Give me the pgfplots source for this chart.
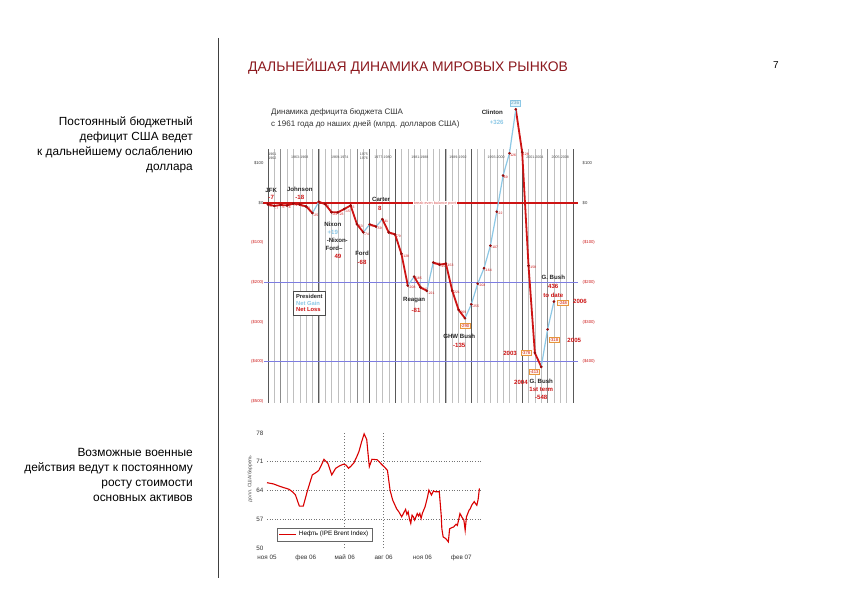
\documentclass[border=0pt]{standalone}
\usepackage{pgfplots}
\pgfplotsset{compat=1.18}
\usepackage{fontspec}
\setmainfont{Liberation Sans}
\definecolor{dred}{RGB}{205,20,20}
\definecolor{mred}{RGB}{150,10,10}
\definecolor{lblue}{RGB}{140,200,230}
\definecolor{maroon}{RGB}{140,25,30}
\definecolor{hblue}{RGB}{125,125,225}
\definecolor{boxor}{RGB}{230,150,60}
\newcommand\fsz[1]{\fontsize{#1}{#1}\selectfont}
\tikzset{ann/.style={font=\fsz{6.1}\bfseries, text=black!85, inner sep=0pt},
  rann/.style={font=\fsz{6.1}\bfseries, text=dred, inner sep=0pt},
  bann/.style={font=\fsz{6.1}\bfseries, text=lblue, inner sep=0pt},
  obox/.style={draw=boxor, fill=orange!8, font=\fsz{4.2}, text=dred, inner sep=1pt},
  term/.style={font=\fsz{3.6}, text=black!70, inner sep=0pt, align=center},
  ylab/.style={font=\fsz{4.2}, inner sep=0pt},
  xlab/.style={font=\fsz{6.3}, text=black!80, inner sep=0pt, anchor=base, yshift=-11pt}}
\begin{document}
\begin{tikzpicture}
\useasboundingbox (0,0) rectangle (842pt,595pt);
\fill[white] (0,0) rectangle (842pt,595pt);
\draw[black!75, line width=0.8pt] (218pt,557pt) -- (218pt,17pt);
\node[anchor=base west, inner sep=0, text=maroon, font=\fsz{13.9}] at (248pt,523pt) {ДАЛЬНЕЙШАЯ ДИНАМИКА МИРОВЫХ РЫНКОВ};
\node[anchor=base, inner sep=0, font=\fsz{10}] at (776pt,526pt) {7};
\node[anchor=east, align=right, inner sep=0, font=\fontsize{11.8}{15}\selectfont] at (193pt,450.5pt) {Постоянный бюджетный\\дефицит США ведет\\к дальнейшему ослаблению\\доллара};
\node[anchor=east, align=right, inner sep=0, font=\fontsize{11.9}{15}\selectfont] at (193pt,120.5pt) {Возможные военные\\действия ведут к постоянному\\росту стоимости\\основных активов};
\node[anchor=west, align=left, inner sep=0, text=black!80, font=\fontsize{8}{11.5}\selectfont] at (271pt,476.5pt) {Динамика дефицита бюджета США\\с 1961 года до наших дней (млрд. долларов США)};

% ---------------- budget deficit chart ----------------
\begin{axis}[at={(268pt,193.5pt)}, anchor=south west, scale only axis,
  width=305pt, height=252pt, xmin=1961, xmax=2009, ymin=-500, ymax=135,
  axis lines=none, clip=false]
\pgfplotsinvokeforeach{1961,...,2009}{\draw[black!25, line width=0.45pt] (axis cs:#1,-503) -- (axis cs:#1,135);}
\pgfplotsinvokeforeach{1963,1975,2005}{\draw[black!45, line width=0.6pt] (axis cs:#1,-503) -- (axis cs:#1,135);}
\pgfplotsinvokeforeach{1961,1969,1977,1981,1989,1993,2001,2009}{\draw[black!65, line width=0.9pt] (axis cs:#1,-503) -- (axis cs:#1,135);}
\draw[hblue, line width=1pt] (axis cs:1960.3,-200) -- (axis cs:2009.8,-200);
\draw[hblue, line width=1pt] (axis cs:1960.3,-400) -- (axis cs:2009.8,-400);
\draw[dred, line width=2.4pt] (axis cs:1960.2,0) -- (axis cs:2009.8,0);
\node[fill=white, text=dred!70, font=\fsz{3.8}, inner sep=0.3pt] at (axis cs:1987.3,0) {break-even balance point};
% y labels
\node[ylab, anchor=east, text=black!80] at (axis cs:1960.3,100) {\$100};
\node[ylab, anchor=east, text=black!80] at (axis cs:1960.3,0) {\$0};
\node[ylab, anchor=east, text=dred] at (axis cs:1960.3,-100) {(\$100)};
\node[ylab, anchor=east, text=dred] at (axis cs:1960.3,-200) {(\$200)};
\node[ylab, anchor=east, text=dred] at (axis cs:1960.3,-300) {(\$300)};
\node[ylab, anchor=east, text=dred] at (axis cs:1960.3,-400) {(\$400)};
\node[ylab, anchor=east, text=dred] at (axis cs:1960.3,-500) {(\$500)};
\node[ylab, anchor=west, text=black!80] at (axis cs:2010.5,100) {\$100};
\node[ylab, anchor=west, text=black!80] at (axis cs:2010.5,0) {\$0};
\node[ylab, anchor=west, text=dred] at (axis cs:2010.5,-100) {(\$100)};
\node[ylab, anchor=west, text=dred] at (axis cs:2010.5,-200) {(\$200)};
\node[ylab, anchor=west, text=dred] at (axis cs:2010.5,-300) {(\$300)};
\node[ylab, anchor=west, text=dred] at (axis cs:2010.5,-400) {(\$400)};
% term labels
\node[term] at (axis cs:1961.7,118) {1961\\1962};
\node[term] at (axis cs:1966,116) {1963-1968};
\node[term] at (axis cs:1972.3,116) {1969-1974};
\node[term] at (axis cs:1976.1,118) {1975\\1976};
\node[term] at (axis cs:1979.1,116) {1977-1980};
\node[term] at (axis cs:1984.9,116) {1981-1988};
\node[term] at (axis cs:1990.9,116) {1989-1992};
\node[term] at (axis cs:1996.9,116) {1993-2000};
\node[term] at (axis cs:2003,116) {2001-2004};
\node[term] at (axis cs:2007,116) {2005-2008};
% data: net-loss segments (red)
\addplot[dred, line width=1.8pt, unbounded coords=jump] coordinates {
(1961,-3.3)(1962,-7.1)(1963,-4.8)(1964,-5.9)(1965,-1.4)(1966,-3.7)(1967,-8.6)(1968,-25.2)(1968,nan)
(1969,3.2)(1970,-2.8)(1971,-23.0)(1972,-23.4)(1973,-14.9)(1974,-6.1)(1975,-53.2)(1976,-73.7)(1976,nan)
(1977,-53.7)(1978,-59.2)(1978,nan)
(1979,-40.7)(1980,-73.8)(1981,-79.0)(1982,-128.0)(1983,-207.8)(1983,nan)
(1984,-185.4)(1985,-212.3)(1986,-221.2)(1986,nan)
(1987,-149.7)(1988,-155.2)(1989,-152.6)(1990,-221.0)(1991,-269.2)(1992,-290.3)(1992,nan)
(2000,236.2)(2001,128.2)(2002,-157.8)(2003,-377.6)(2004,-412.7)};
% net-gain segments (light blue)
\addplot[lblue, line width=1.2pt, unbounded coords=jump] coordinates {
(1968,-25.2)(1969,3.2)(1969,nan)
(1976,-73.7)(1977,-53.7)(1977,nan)(1978,-59.2)(1979,-40.7)(1979,nan)(1983,-207.8)(1984,-185.4)(1984,nan)
(1986,-221.2)(1987,-149.7)(1987,nan)(1992,-290.3)(1993,-255.1)(1994,-203.2)(1995,-164.0)(1996,-107.4)
(1997,-21.9)(1998,69.3)(1999,125.6)(2000,236.2)(2000,nan)(2004,-412.7)(2005,-318.3)(2006,-248.2)};
\addplot[only marks, mark=*, mark size=1.15pt, draw=mred, fill=mred,
  point meta=y,
  nodes near coords={\pgfmathprintnumber[fixed,precision=0,assume math mode=true]{\pgfplotspointmeta}},
  every node near coord/.append style={font=\fsz{3.4}, text=dred, anchor=north west, inner sep=0.6pt}]
coordinates {
(1961,-3.3)(1962,-7.1)(1963,-4.8)(1964,-5.9)(1965,-1.4)(1966,-3.7)(1967,-8.6)(1968,-25.2)
(1969,3.2)(1970,-2.8)(1971,-23.0)(1972,-23.4)(1973,-14.9)(1974,-6.1)(1975,-53.2)(1976,-73.7)
(1977,-53.7)(1978,-59.2)(1979,-40.7)(1980,-73.8)(1981,-79.0)(1982,-128.0)(1983,-207.8)(1984,-185.4)
(1985,-212.3)(1986,-221.2)(1987,-149.7)(1988,-155.2)(1989,-152.6)(1990,-221.0)(1991,-269.2)
(1993,-255.1)(1994,-203.2)(1995,-164.0)(1996,-107.4)(1997,-21.9)(1998,69.3)(1999,125.6)
(2001,128.2)(2002,-157.8)};
\addplot[only marks, mark=*, mark size=1.15pt, draw=mred, fill=mred] coordinates {
(1992,-290.3)(2000,236.2)(2003,-377.6)(2004,-412.7)(2005,-318.3)(2006,-248.2)};
% annotations
\node[ann] at (axis cs:1961.5,33) {JFK};
\node[rann] at (axis cs:1961.5,15) {-7};
\node[ann] at (axis cs:1966,35) {Johnson};
\node[rann] at (axis cs:1966,15) {-18};
\node[ann] at (axis cs:1978.8,10) {Carter};
\node[rann] at (axis cs:1978.6,-13) {8};
\node[ann] at (axis cs:1971.2,-53) {Nixon};
\node[bann] at (axis cs:1971.2,-73) {+19};
\node[ann] at (axis cs:1971.9,-93) {-Nixon-};
\node[ann] at (axis cs:1971.4,-113) {Ford--};
\node[rann] at (axis cs:1972,-134) {49};
\node[ann] at (axis cs:1975.8,-126) {Ford};
\node[rann] at (axis cs:1975.8,-149) {-68};
\node[ann] at (axis cs:1984,-244) {Reagan};
\node[rann] at (axis cs:1984.3,-270) {-81};
\node[ann] at (axis cs:1991.1,-335) {GHW Bush};
\node[rann] at (axis cs:1991.1,-358) {-135};
\node[ann] at (axis cs:1996.3,229) {Clinton};
\node[bann] at (axis cs:1997,204) {+326};
\node[ann] at (axis cs:2005.9,-186) {G. Bush};
\node[rann] at (axis cs:2005.9,-209) {436};
\node[rann] at (axis cs:2005.9,-232) {to date};
\node[ann] at (axis cs:2004,-448) {G. Bush};
\node[rann] at (axis cs:2004,-469) {1st term};
\node[rann] at (axis cs:2004,-489) {-548};
\node[draw=lblue, fill=cyan!12, font=\fsz{4.8}, text=lblue!80!black, inner sep=1pt] at (axis cs:1999.9,252) {236};
\node[rann] at (axis cs:1999.1,-378) {2003};
\node[obox] at (axis cs:2001.6,-378) {-378};
\node[obox] at (axis cs:2002.9,-426) {-413};
\node[rann] at (axis cs:2000.8,-451) {2004};
\node[obox] at (axis cs:2006.0,-345) {-318};
\node[rann] at (axis cs:2009.2,-345) {2005};
\node[obox] at (axis cs:2007.4,-252) {-248};
\node[rann] at (axis cs:2010.1,-249) {2006};
\node[obox] at (axis cs:1992,-310) {-290};
\node[draw=black!70, fill=white, align=left, inner sep=3pt, font=\fsz{5.8}\bfseries] at (axis cs:1967.5,-252)
  {\textcolor{black!85}{President}\\[1pt]\textcolor{lblue}{Net Gain}\\[1pt]\textcolor{dred}{Net Loss}};
\end{axis}

% ---------------- oil chart ----------------
\begin{axis}[at={(267pt,47pt)}, anchor=south west, scale only axis,
  width=215pt, height=115pt, xmin=0, xmax=16.6, ymin=50, ymax=78,
  axis line style={draw=none}, major tick length=0pt,
  ytick={50,57,64,71,78}, xtick=\empty,
  tick label style={font=\fsz{6.3}, text=black!80},
  /pgf/number format/assume math mode=true,
  legend style={at={(0.047,0.06)}, anchor=south west, draw=black!60, font=\fsz{6.3}, inner sep=1.5pt},
  legend cell align=left, clip=false]
\draw[black!55, dotted, line width=0.6pt] (axis cs:0,57) -- (axis cs:16.6,57);
\draw[black!55, dotted, line width=0.6pt] (axis cs:0,64) -- (axis cs:16.6,64);
\draw[black!55, dotted, line width=0.6pt] (axis cs:0,71) -- (axis cs:16.6,71);
\draw[black!55, dash pattern=on 1.5pt off 1.5pt, line width=0.6pt] (axis cs:6,50) -- (axis cs:6,78);
\draw[black!55, dash pattern=on 1.5pt off 1.5pt, line width=0.6pt] (axis cs:9,50) -- (axis cs:9,78);
\node[xlab] at (axis cs:0,50) {ноя 05};
\node[xlab] at (axis cs:3,50) {фев 06};
\node[xlab] at (axis cs:6,50) {май 06};
\node[xlab] at (axis cs:9,50) {авг 06};
\node[xlab] at (axis cs:12,50) {ноя 06};
\node[xlab] at (axis cs:15,50) {фев 07};
\addplot[red!85!black, line width=1.1pt] coordinates {
(0,65.9)(0.5,65.6)(1.0,65.0)(1.3,64.7)(1.7,64.3)(2.0,63.6)(2.2,62.9)(2.35,61.5)(2.5,60.2)(2.8,60.2)
(3.1,63.7)(3.3,65.8)(3.5,67.8)(3.8,68.4)(4.0,68.9)(4.2,70.2)(4.4,71.6)(4.7,70.6)(5.0,67.8)(5.3,69.4)
(5.6,70.0)(5.9,70.4)(6.1,70.2)(6.3,69.4)(6.5,70.0)(6.7,70.7)(6.9,72.0)(7.1,73.5)(7.3,75.8)(7.5,77.8)
(7.7,76.4)(7.8,73.0)(7.9,69.8)(8.1,71.6)(8.5,71.5)(8.9,70.2)(9.1,69.6)(9.3,68.9)(9.5,64.1)(9.7,61.7)
(10.0,59.6)(10.2,58.7)(10.4,57.6)(10.6,58.8)(10.7,59.4)(10.8,58.2)(10.9,58.8)(11.0,57.0)(11.1,56.0)
(11.2,58.0)(11.3,57.6)(11.4,56.8)(11.6,58.4)(11.7,57.8)(11.8,58.4)(11.9,57.2)(12.0,58.5)(12.2,60.0)
(12.4,62.5)(12.5,64.1)(12.7,62.9)(12.85,63.9)(13.0,63.7)(13.3,63.7)(13.45,58.0)(13.5,54.7)(13.6,52.7)
(13.8,52.3)(14.0,51.5)(14.1,54.7)(14.3,55.0)(14.4,55.1)(14.6,55.8)(14.7,55.5)(14.9,58.4)(15.05,57.5)
(15.2,56.8)(15.3,54.3)(15.4,57.6)(15.6,59.2)(15.7,59.6)(15.8,60.4)(16.0,61.3)(16.1,60.8)(16.2,60.4)
(16.3,61.8)(16.4,64.5)};
\addlegendentry{Нефть (IPE Brent Index)}
\node[rotate=90, font=\fsz{5}, text=black!70, inner sep=0pt] at (rel axis cs:-0.079,0.6) {долл. США/баррель};
\end{axis}
\end{tikzpicture}
\end{document}
